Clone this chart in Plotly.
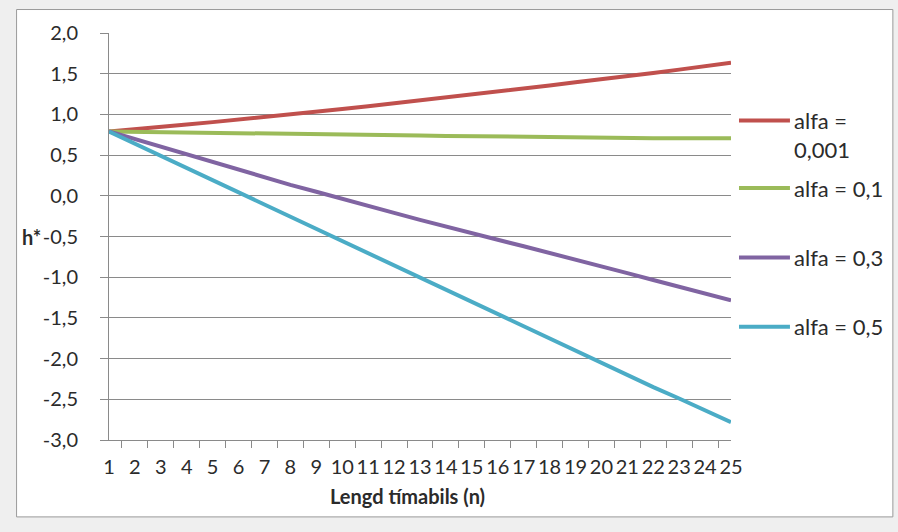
import plotly.graph_objects as go

# ---- data ----
n_labels = [str(i) for i in range(1, 26)]

alfa_0001 = [0.79, 0.815, 0.845, 0.875, 0.905, 0.935, 0.965, 0.995, 1.03, 1.065,
             1.10, 1.135, 1.17, 1.205, 1.24, 1.275, 1.315, 1.355, 1.395, 1.43,
             1.47, 1.51, 1.55, 1.595, 1.635]
alfa_01 = [0.79, 0.787, 0.783, 0.779, 0.775, 0.771, 0.767, 0.763, 0.758, 0.754,
           0.750, 0.746, 0.741, 0.736, 0.731, 0.726, 0.721, 0.717, 0.713, 0.710,
           0.708, 0.707, 0.707, 0.707, 0.707]
alfa_03 = [0.79, 0.695, 0.60, 0.51, 0.42, 0.32, 0.225, 0.135, 0.05, -0.04,
           -0.125, -0.21, -0.295, -0.38, -0.46, -0.54, -0.62, -0.70, -0.78, -0.865,
           -0.95, -1.035, -1.12, -1.20, -1.285]
alfa_05 = [0.79, 0.64, 0.49, 0.34, 0.19, 0.04, -0.11, -0.26, -0.41, -0.56,
           -0.71, -0.86, -1.01, -1.16, -1.31, -1.46, -1.61, -1.76, -1.91, -2.06,
           -2.20, -2.35, -2.49, -2.64, -2.78]

series_names = ["alfa =<br>0,001", "alfa = 0,1", "alfa = 0,3", "alfa = 0,5"]
series_values = [alfa_0001, alfa_01, alfa_03, alfa_05]
series_colors = ["#C0504D", "#9BBB59", "#8064A2", "#4BACC6"]

y_tickvals = [2.0, 1.5, 1.0, 0.5, 0.0, -0.5, -1.0, -1.5, -2.0, -2.5, -3.0]
y_ticktext = ["2,0", "1,5", "1,0", "0,5", "0,0", "-0,5", "-1,0", "-1,5", "-2,0", "-2,5", "-3,0"]

x_title = "Lengd tímabils (n)"
y_title = "h*"

# ---- layout geometry (pixels) ----
W, H = 898, 532
L, R, T, B = 108.5, 731, 32.5, 440
pw, ph = R - L, B - T


def px(x):
    return (x - L) / pw


def py(y):
    return (B - y) / ph


FONT = "Lato, 'Open Sans', sans-serif"
TXT = "#2b2b2b"
GRID = "#8a8a8a"

fig = go.Figure()
for name, vals, col in zip(series_names, series_values, series_colors):
    fig.add_trace(go.Scatter(x=n_labels, y=vals, mode="lines", name=name,
                             line=dict(color=col, width=4), showlegend=False))

shapes = [
    dict(type="rect", xref="paper", yref="paper", layer="below",
         x0=px(16), x1=px(893), y0=py(517), y1=py(9),
         fillcolor="white", line=dict(color="#9a9a9a", width=1)),
]
annotations = [
    dict(text="<b>" + y_title + "</b>", xref="paper", yref="paper",
         x=px(42), y=py(237), xanchor="right", yanchor="middle",
         showarrow=False, font=dict(family=FONT, size=20, color=TXT)),
    dict(text="<b>" + x_title + "</b>", xref="paper", yref="paper",
         x=px(407), y=py(496), xanchor="center", yanchor="middle",
         showarrow=False, font=dict(family=FONT, size=20, color=TXT)),
]

legend_y = [120, 187.7, 257.3, 326.7]
text_y = [135, 187.7, 257.3, 326.7]
for name, col, ly, ty in zip(series_names, series_colors, legend_y, text_y):
    shapes.append(dict(type="line", xref="paper", yref="paper",
                       x0=px(739), x1=px(790), y0=py(ly), y1=py(ly),
                       line=dict(color=col, width=4)))
    annotations.append(dict(text=name, xref="paper", yref="paper",
                            x=px(792), y=py(ty), xanchor="left", yanchor="middle",
                            align="left", showarrow=False,
                            font=dict(family=FONT, size=22, color=TXT)))

fig.update_layout(
    width=W, height=H,
    margin=dict(l=L, r=W - R, t=T, b=H - B, pad=0),
    paper_bgcolor="#efefef",
    plot_bgcolor="white",
    font=dict(family=FONT, size=19, color=TXT),
    shapes=shapes,
    annotations=annotations,
    hovermode=False,
    xaxis=dict(type="category", tickson="boundaries", ticks="outside", ticklen=7,
               tickcolor=GRID, showgrid=False, showline=True, linecolor=GRID,
               linewidth=1, tickangle=0, zeroline=False, ticklabelstandoff=9,
               tickfont=dict(family=FONT, size=20, color=TXT)),
    yaxis=dict(range=[-3, 2], tickvals=y_tickvals, ticktext=y_ticktext,
               ticks="outside", ticklen=8, tickcolor=GRID, showgrid=True,
               gridcolor=GRID, gridwidth=1, showline=True, linecolor=GRID,
               linewidth=1, zeroline=False, ticklabelstandoff=18,
               tickfont=dict(family=FONT, size=20, color=TXT)),
)

fig.write_html("out.html", config={"displayModeBar": False},
               post_script="document.body.style.margin='0';document.body.style.overflow='hidden';")
